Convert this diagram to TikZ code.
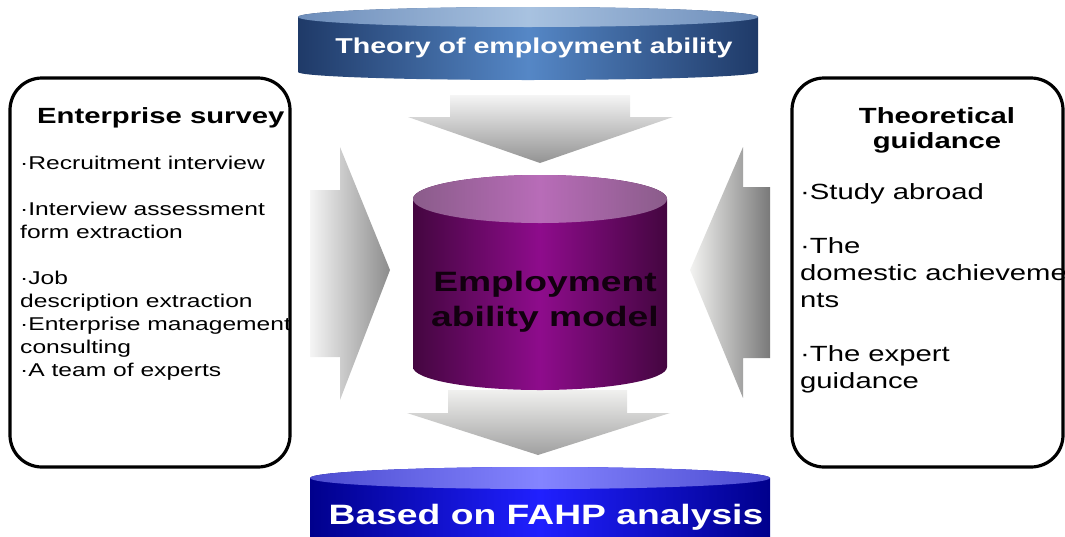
\documentclass[tikz,border=0pt]{standalone}
\usepackage{fontspec}
\setmainfont{Liberation Sans}[FakeStretch=1.33]
\definecolor{navydark}{HTML}{1F3A68}
\definecolor{navylight}{HTML}{5587C6}
\definecolor{navytopdark}{HTML}{6D8DBA}
\definecolor{navytoplight}{HTML}{A8C2E0}
\definecolor{plumdark}{HTML}{440640}
\definecolor{plumlight}{HTML}{8E0C8C}
\definecolor{plumtopdark}{HTML}{8A5C8A}
\definecolor{plumtoplight}{HTML}{B86CB8}
\definecolor{bluedark}{HTML}{00008C}
\definecolor{bluelight}{HTML}{2020FF}
\definecolor{bluetopdark}{HTML}{4C4CD0}
\definecolor{bluetoplight}{HTML}{8484FF}
\definecolor{modelink}{HTML}{12000F}

\begin{document}
\begin{tikzpicture}[x=1pt,y=1pt,
  frame/.style={draw=black,line width=3.2pt,rounded corners=32pt,minimum width=280pt,minimum height=389pt},
  bannertext/.style={text=white,font=\bfseries\fontsize{21.5}{24}\selectfont},
  headtext/.style={font=\bfseries\fontsize{22}{25}\selectfont,align=center,inner sep=0pt},
  itemtext/.style={anchor=north west,align=left,inner sep=0pt}]
  \clip (0,0) rectangle (1065,-536);

  % top banner
  \shade[left color=navydark,right color=navydark,middle color=navylight]
    (298,-17) -- (298,-72) arc[start angle=180,end angle=360,x radius=230,y radius=8]
    -- (758,-17) arc[start angle=0,end angle=180,x radius=230,y radius=10] -- cycle;
  \shade[left color=navytopdark,right color=navytopdark,middle color=navytoplight]
    (528,-17) ellipse[x radius=230,y radius=10];
  \node[bannertext] (theory) at (534,-48) {Theory of employment ability};

  % block arrows
  \shade[top color=gray!8,bottom color=gray!85]
    (450,-95) -- (630,-95) -- (630,-117) -- (673,-117) -- (540,-163) -- (408,-117) -- (450,-117) -- cycle;
  \shade[left color=gray!8,right color=gray!90]
    (310,-190) -- (340,-190) -- (340,-147) -- (390,-270) -- (340,-400) -- (340,-357) -- (310,-357) -- cycle;
  \shade[left color=yellow!6!gray!10,right color=gray!95!black]
    (770,-187) -- (743,-187) -- (743,-147) -- (690,-270) -- (743,-398) -- (743,-358) -- (770,-358) -- cycle;
  \shade[top color=yellow!5!gray!12,bottom color=gray!75]
    (448,-390) -- (627,-390) -- (627,-413) -- (670,-413) -- (538,-455) -- (407,-413) -- (448,-413) -- cycle;

  % model cylinder
  \shade[left color=plumdark,right color=plumdark,middle color=plumlight]
    (413,-199) -- (413,-367) arc[start angle=180,end angle=360,x radius=127,y radius=23]
    -- (667,-199) arc[start angle=0,end angle=180,x radius=127,y radius=24] -- cycle;
  \shade[left color=plumtopdark,right color=plumtopdark,middle color=plumtoplight]
    (540,-199) ellipse[x radius=127,y radius=24];
  \node[text=modelink,font=\bfseries\fontsize{28}{35}\selectfont,align=center] (model) at (545,-302) {Employment\\ability model};

  % enterprise survey
  \node[frame] (survey) at (150,-272.5) {};
  \node[headtext,anchor=west] (surveyhead) at (37,-118) {Enterprise survey};
  \node[itemtext,font=\fontsize{18.5}{23}\selectfont] (surveylist) at (20,-156)
    {·Recruitment interview\\[23pt]·Interview assessment\\form extraction\\[23pt]·Job\\description extraction\\·Enterprise management\\consulting\\·A team of experts};

  % theoretical guidance
  \node[frame,minimum width=271pt] (guide) at (927.5,-272.5) {};
  \node[headtext] (guidehead) at (937,-130) {Theoretical\\guidance};
  \node[itemtext,font=\fontsize{22}{27}\selectfont] (guidelist) at (800,-183)
    {·Study abroad\\[27pt]·The\\domestic achieveme\\nts\\[27pt]·The expert\\guidance};

  % bottom banner
  \shade[left color=bluedark,right color=bluedark,middle color=bluelight]
    (310,-478) -- (310,-560) -- (770,-560) -- (770,-478) arc[start angle=0,end angle=180,x radius=230,y radius=11] -- cycle;
  \shade[left color=bluetopdark,right color=bluetopdark,middle color=bluetoplight]
    (540,-478) ellipse[x radius=230,y radius=11];
  \node[bannertext,font=\bfseries\fontsize{28}{30}\selectfont] (fahp) at (546,-517) {Based on FAHP analysis};
\end{tikzpicture}
\end{document}
